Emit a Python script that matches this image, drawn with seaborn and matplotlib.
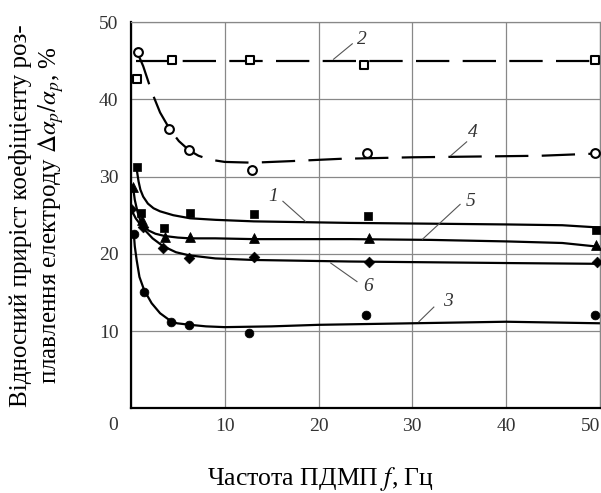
import numpy as np
import pandas as pd
import seaborn as sns
import matplotlib
matplotlib.use("Agg")
import matplotlib.pyplot as plt

# measured points (frequency f, Hz ; relative increase, %)
f_2 = [0.6, 4.4, 12.7, 24.9, 49.5]
y_2 = [42.6, 45.1, 45.1, 44.4, 45.1]
f_4 = [0.7, 4.1, 6.2, 12.9, 25.2, 49.5]
y_4 = [46.1, 36.2, 33.4, 30.8, 33.1, 33.0]
f_1 = [0.6, 1.1, 3.5, 6.3, 13.1, 25.3, 49.6]
y_1 = [31.3, 25.3, 23.4, 25.3, 25.2, 24.9, 23.1]
f_5 = [0.2, 1.2, 3.6, 6.3, 13.1, 25.4, 49.6]
y_5 = [28.7, 24.4, 22.2, 22.2, 22.1, 22.1, 21.2]
f_6 = [0.0, 1.3, 3.4, 6.2, 13.1, 25.4, 49.7]
y_6 = [25.8, 23.5, 20.8, 19.5, 19.6, 19.0, 19.0]
f_3 = [0.3, 1.4, 4.3, 6.2, 12.6, 25.1, 49.5]
y_3 = [22.6, 15.1, 11.2, 10.8, 9.8, 12.1, 12.1]

# trend curves
cf_2 = [0.5, 10, 20, 30, 40, 50]
cy_2 = [45.0, 45.0, 45.0, 45.0, 45.0, 45.0]
cf_4 = [0.7, 1.3, 2.2, 3.1, 4.1, 5.1, 6.2, 7.2, 8.4, 10, 13, 17, 22.3, 30, 37, 43.7, 50]
cy_4 = [46.0, 44.3, 41.0, 38.3, 36.2, 34.6, 33.4, 32.7, 32.2, 31.9, 31.8, 32.0, 32.3, 32.5, 32.6, 32.7, 33.0]
cf_1 = [0.6, 0.8, 1.0, 1.3, 1.8, 2.4, 3.1, 4.5, 6.3, 9, 13.1, 23.4, 32, 40.2, 46, 50]
cy_1 = [31.0, 29.4, 28.3, 27.4, 26.5, 25.9, 25.5, 25.0, 24.6, 24.4, 24.2, 24.0, 23.9, 23.8, 23.7, 23.4]
cf_5 = [0.2, 0.4, 0.7, 1.0, 1.3, 1.9, 2.6, 3.6, 5, 6.3, 9, 13.1, 23.4, 32, 40.2, 46, 50]
cy_5 = [28.8, 27.0, 25.4, 24.3, 23.6, 23.0, 22.6, 22.3, 22.1, 22.0, 22.0, 21.9, 21.9, 21.8, 21.6, 21.4, 20.9]
cf_6 = [0.0, 0.5, 1.3, 2.3, 3.4, 4.8, 6.2, 9, 13.1, 23.4, 32, 40.2, 50]
cy_6 = [25.8, 24.6, 23.3, 22.0, 21.0, 20.2, 19.8, 19.4, 19.2, 19.0, 18.9, 18.8, 18.7]
cf_3 = [0.3, 0.4, 0.6, 0.9, 1.4, 2.2, 3.1, 4.0, 4.9, 6.3, 8, 10, 15, 20, 30, 40, 50]
cy_3 = [22.6, 21.0, 19.2, 17.0, 15.3, 13.6, 12.3, 11.5, 11.0, 10.8, 10.6, 10.5, 10.6, 10.8, 11.0, 11.2, 11.0]

x_ticks = [0, 10, 20, 30, 40, 50]
y_ticks = [10, 20, 30, 40, 50]

plt.rcParams["font.family"] = ["Liberation Serif", "DejaVu Serif"]
plt.rcParams["mathtext.fontset"] = "stix"

fig = plt.figure(figsize=(6.01, 4.93), dpi=100)
ax = fig.add_axes([0.218, 0.172, 0.780, 0.783])

# solid curves 1, 5, 6, 3
for cf, cy in [(cf_1, cy_1), (cf_5, cy_5), (cf_6, cy_6), (cf_3, cy_3)]:
    sns.lineplot(x=cf, y=cy, ax=ax, color="black", linewidth=1.6, sort=False)
# dashed curves 2, 4
for cf, cy in [(cf_2, cy_2), (cf_4, cy_4)]:
    sns.lineplot(x=cf, y=cy, ax=ax, color="black", linewidth=1.6, sort=False,
                 dashes=False).lines[-1].set_dashes((15, 6))

sns.scatterplot(x=f_2, y=y_2, ax=ax, marker="s", s=40, facecolor="white",
                edgecolor="black", linewidth=1.5, zorder=5)
sns.scatterplot(x=f_4, y=y_4, ax=ax, marker="o", s=40, facecolor="white",
                edgecolor="black", linewidth=1.5, zorder=5)
sns.scatterplot(x=f_1, y=y_1, ax=ax, marker="s", s=40, color="black", edgecolor="black", zorder=5)
sns.scatterplot(x=f_5, y=y_5, ax=ax, marker="^", s=50, color="black", edgecolor="black", zorder=5)
sns.scatterplot(x=f_6, y=y_6, ax=ax, marker="D", s=30, color="black", edgecolor="black", zorder=5)
sns.scatterplot(x=f_3, y=y_3, ax=ax, marker="o", s=40, color="black", edgecolor="black", zorder=5)

# curve numbers with leader lines
labels = [("1", (16.2, 26.8), (18.6, 24.2), (15.2, 27.4)),
          ("2", (21.6, 45.2), (23.6, 47.2), (24.6, 47.7)),
          ("3", (30.7, 11.2), (32.3, 13.1), (33.8, 13.8)),
          ("4", (34.1, 32.7), (35.8, 34.5), (36.5, 35.7)),
          ("5", (31.1, 21.9), (35.1, 26.4), (36.2, 26.8)),
          ("6", (21.3, 18.8), (24.1, 16.4), (25.3, 15.7))]
for txt, p0, p1, pt in labels:
    ax.plot([p0[0], p1[0]], [p0[1], p1[1]], color="#555555", linewidth=0.8)
    ax.text(pt[0], pt[1], txt, fontsize=14, fontstyle="italic", ha="center", va="center",
            color="#333333")

ax.set_xlim(0, 50)
ax.set_ylim(0, 50)
ax.set_xticks(x_ticks)
ax.set_xticklabels([""] + [str(t) for t in x_ticks[1:]])
ax.get_xticklabels()[-1].set_horizontalalignment("right")
ax.set_yticks(y_ticks)
ax.tick_params(length=0, labelsize=14, labelcolor="#333333")
ax.tick_params(axis="x", pad=7)
ax.tick_params(axis="y", pad=9)
ax.text(-0.038, -0.044, "0", transform=ax.transAxes, fontsize=14, color="#333333",
        ha="center", va="center")
ax.grid(True, color="#888888", linewidth=0.9)
ax.set_axisbelow(True)
for side in ["left", "bottom"]:
    ax.spines[side].set_linewidth(1.6)
    ax.spines[side].set_color("black")
for side in ["top", "right"]:
    ax.spines[side].set_linewidth(0.9)
    ax.spines[side].set_color("#888888")

ax.set_xlabel("Частота ПДМП $f$, Гц", fontsize=18.5)
ax.xaxis.set_label_coords(0.405, -0.148)
ax.xaxis.label.set_verticalalignment("top")
ax.set_ylabel("Відносний приріст коефіцієнту роз-\n"
              "плавлення електроду $\\Delta\\alpha_p/\\alpha_p$, %",
              fontsize=18, linespacing=1.2)
ax.yaxis.set_label_coords(-0.138, 0.5)

fig.savefig("out.png", dpi=100)
